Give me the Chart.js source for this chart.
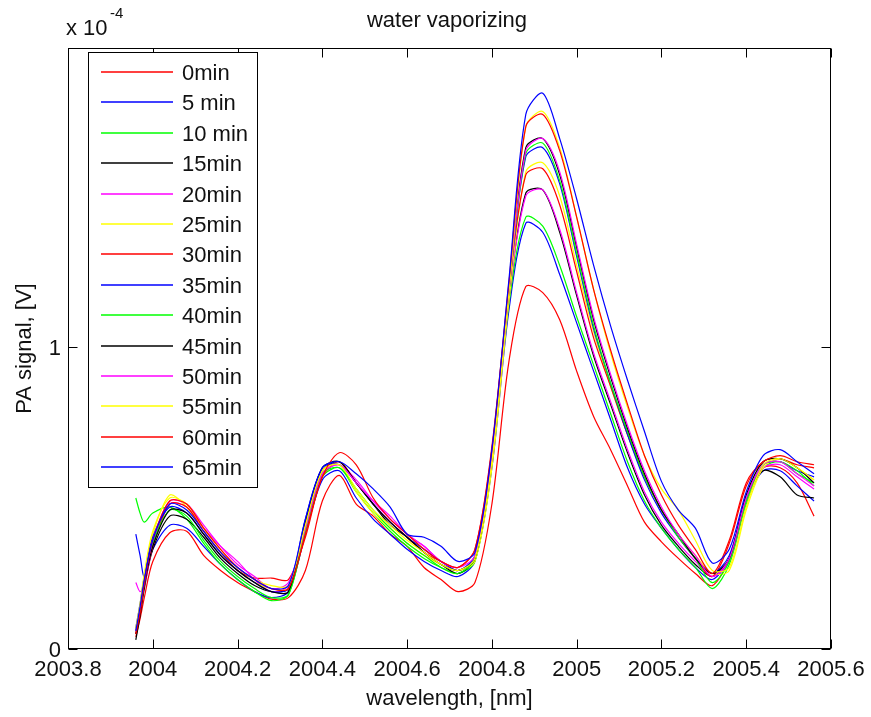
<!DOCTYPE html>
<html>
<head>
<meta charset="utf-8">
<title>water vaporizing</title>
<script src="https://cdn.jsdelivr.net/npm/chart.js@4.4.1/dist/chart.umd.min.js"></script>
<style>
  html, body { margin: 0; padding: 0; background: #fff; }
</style>
</head>
<body>
<canvas id="paChart" width="871" height="717"></canvas>
<script>
// DATA  (PA signal in units of 1e-4 V)
const wavelength = [2003.96, 2003.97, 2003.98, 2004.00, 2004.04, 2004.08, 2004.12, 2004.16, 2004.20, 2004.24,
  2004.28, 2004.32, 2004.36, 2004.40, 2004.44, 2004.48, 2004.52, 2004.56, 2004.60, 2004.64,
  2004.68, 2004.72, 2004.76, 2004.80, 2004.84, 2004.88, 2004.92, 2004.96, 2005.00, 2005.04,
  2005.08, 2005.12, 2005.16, 2005.20, 2005.24, 2005.28, 2005.32, 2005.36, 2005.40, 2005.44,
  2005.48, 2005.52, 2005.56];

const min0 = [0.04, 0.10, 0.17, 0.29, 0.385, 0.39, 0.31, 0.26, 0.22, 0.19, 0.165, 0.17, 0.26, 0.49, 0.575, 0.48, 0.44, 0.38, 0.34, 0.27, 0.23,
  0.19, 0.22, 0.48, 0.95, 1.20, 1.18, 1.09, 0.92, 0.77, 0.66, 0.54, 0.42, 0.355, 0.30, 0.25, 0.21,
  0.30, 0.50, 0.60, 0.60, 0.55, 0.44];
const min5 = [0.38, 0.31, 0.24, 0.33, 0.41, 0.40, 0.34, 0.28, 0.23, 0.19, 0.17, 0.19, 0.38, 0.56, 0.59, 0.50, 0.43, 0.38, 0.33, 0.29, 0.26,
  0.24, 0.29, 0.60, 1.12, 1.41, 1.38, 1.24, 1.08, 0.92, 0.76, 0.60, 0.48, 0.40, 0.33, 0.27, 0.23,
  0.30, 0.49, 0.59, 0.59, 0.54, 0.49];
const min10 = [0.50, 0.45, 0.42, 0.45, 0.47, 0.43, 0.35, 0.28, 0.23, 0.19, 0.16, 0.18, 0.39, 0.57, 0.60, 0.52, 0.45, 0.39, 0.34, 0.30, 0.27,
  0.25, 0.29, 0.61, 1.14, 1.43, 1.40, 1.27, 1.10, 0.94, 0.78, 0.62, 0.49, 0.40, 0.33, 0.27, 0.20,
  0.28, 0.48, 0.60, 0.62, 0.58, 0.55];
const min15 = [0.03, 0.11, 0.20, 0.33, 0.44, 0.43, 0.37, 0.30, 0.25, 0.21, 0.19, 0.20, 0.42, 0.59, 0.62, 0.55, 0.48, 0.41, 0.37, 0.32, 0.28,
  0.25, 0.30, 0.62, 1.16, 1.51, 1.52, 1.38, 1.17, 0.97, 0.81, 0.65, 0.51, 0.41, 0.34, 0.28, 0.24,
  0.30, 0.50, 0.59, 0.57, 0.51, 0.50];
const min20 = [0.22, 0.19, 0.21, 0.34, 0.48, 0.47, 0.40, 0.34, 0.29, 0.23, 0.19, 0.21, 0.41, 0.58, 0.61, 0.56, 0.49, 0.43, 0.38, 0.34, 0.29,
  0.26, 0.30, 0.62, 1.16, 1.50, 1.52, 1.39, 1.18, 0.98, 0.82, 0.66, 0.52, 0.42, 0.35, 0.29, 0.24,
  0.29, 0.49, 0.60, 0.61, 0.57, 0.53];
const min25 = [0.06, 0.14, 0.24, 0.38, 0.51, 0.47, 0.39, 0.32, 0.26, 0.22, 0.20, 0.20, 0.40, 0.59, 0.61, 0.52, 0.45, 0.40, 0.35, 0.31, 0.28,
  0.26, 0.29, 0.60, 1.15, 1.58, 1.61, 1.50, 1.27, 1.05, 0.87, 0.71, 0.57, 0.46, 0.38, 0.31, 0.25,
  0.26, 0.46, 0.60, 0.63, 0.60, 0.56];
const min30 = [0.05, 0.12, 0.21, 0.34, 0.48, 0.47, 0.39, 0.32, 0.26, 0.235, 0.235, 0.23, 0.37, 0.57, 0.62, 0.55, 0.48, 0.42, 0.37, 0.32, 0.29,
  0.27, 0.33, 0.66, 1.19, 1.57, 1.59, 1.47, 1.25, 1.03, 0.87, 0.71, 0.57, 0.46, 0.37, 0.30, 0.24,
  0.35, 0.54, 0.62, 0.63, 0.61, 0.60];
const min35 = [0.07, 0.15, 0.24, 0.37, 0.47, 0.45, 0.38, 0.31, 0.26, 0.22, 0.19, 0.20, 0.43, 0.60, 0.61, 0.55, 0.48, 0.42, 0.37, 0.33, 0.29,
  0.26, 0.31, 0.64, 1.18, 1.63, 1.66, 1.54, 1.30, 1.06, 0.88, 0.71, 0.56, 0.45, 0.37, 0.30, 0.25,
  0.31, 0.50, 0.61, 0.62, 0.59, 0.57];
const min40 = [0.06, 0.13, 0.22, 0.35, 0.46, 0.44, 0.36, 0.29, 0.24, 0.20, 0.17, 0.18, 0.40, 0.58, 0.60, 0.53, 0.46, 0.40, 0.35, 0.31, 0.27,
  0.25, 0.30, 0.63, 1.18, 1.64, 1.675, 1.55, 1.31, 1.07, 0.88, 0.72, 0.57, 0.46, 0.37, 0.30, 0.22,
  0.29, 0.49, 0.61, 0.62, 0.59, 0.54];
const min45 = [0.05, 0.12, 0.21, 0.34, 0.46, 0.45, 0.38, 0.31, 0.26, 0.22, 0.19, 0.19, 0.42, 0.60, 0.62, 0.55, 0.48, 0.42, 0.37, 0.32, 0.28,
  0.26, 0.30, 0.63, 1.19, 1.66, 1.69, 1.57, 1.33, 1.09, 0.90, 0.73, 0.58, 0.46, 0.38, 0.30, 0.25,
  0.30, 0.51, 0.62, 0.63, 0.60, 0.55];
const min50 = [0.06, 0.13, 0.22, 0.36, 0.49, 0.48, 0.41, 0.34, 0.28, 0.24, 0.20, 0.22, 0.40, 0.58, 0.61, 0.55, 0.49, 0.44, 0.38, 0.34, 0.29,
  0.27, 0.31, 0.63, 1.18, 1.65, 1.69, 1.58, 1.34, 1.10, 0.91, 0.74, 0.59, 0.47, 0.38, 0.31, 0.24,
  0.30, 0.50, 0.61, 0.62, 0.58, 0.54];
const min55 = [0.07, 0.15, 0.25, 0.39, 0.50, 0.48, 0.40, 0.33, 0.27, 0.23, 0.21, 0.21, 0.41, 0.59, 0.61, 0.53, 0.46, 0.41, 0.36, 0.32, 0.28,
  0.26, 0.30, 0.62, 1.18, 1.73, 1.78, 1.66, 1.43, 1.19, 0.98, 0.80, 0.64, 0.53, 0.46, 0.36, 0.26,
  0.27, 0.47, 0.61, 0.63, 0.60, 0.56];
const min60 = [0.05, 0.12, 0.22, 0.36, 0.49, 0.48, 0.40, 0.33, 0.27, 0.23, 0.20, 0.20, 0.38, 0.57, 0.65, 0.61, 0.50, 0.43, 0.38, 0.33, 0.29,
  0.27, 0.33, 0.67, 1.21, 1.73, 1.77, 1.65, 1.43, 1.19, 0.99, 0.81, 0.64, 0.51, 0.41, 0.33, 0.25,
  0.36, 0.55, 0.62, 0.64, 0.62, 0.61];
const min65 = [0.06, 0.14, 0.23, 0.36, 0.48, 0.46, 0.39, 0.32, 0.27, 0.23, 0.20, 0.21, 0.43, 0.60, 0.62, 0.58, 0.53, 0.47, 0.38, 0.37, 0.34,
  0.29, 0.32, 0.66, 1.22, 1.77, 1.84, 1.69, 1.49, 1.27, 1.07, 0.89, 0.72, 0.555, 0.46, 0.40, 0.285,
  0.33, 0.52, 0.64, 0.66, 0.62, 0.58];

const seriesNames = ['0min', '5 min', '10 min', '15min', '20min', '25min', '30min',
  '35min', '40min', '45min', '50min', '55min', '60min', '65min'];
const seriesValues = [min0, min5, min10, min15, min20, min25, min30,
  min35, min40, min45, min50, min55, min60, min65];
const seriesColors = ['#ff0000', '#0000ff', '#00ff00', '#000000', '#ff00ff', '#ffff00', '#ff0000',
  '#0000ff', '#00ff00', '#000000', '#ff00ff', '#ffff00', '#ff0000', '#0000ff'];

const xTickValues = [2003.8, 2004.0, 2004.2, 2004.4, 2004.6, 2004.8, 2005.0, 2005.2, 2005.4, 2005.6];
const xTickLabels = ['2003.8', '2004', '2004.2', '2004.4', '2004.6', '2004.8', '2005', '2005.2', '2005.4', '2005.6'];
const yTickValues = [0, 1];
const yTickLabels = ['0', '1'];

const FONT = '"Liberation Sans", Arial, Helvetica, sans-serif';

// MATLAB-like frame, ticks, labels and legend
const matlabFrame = {
    id: 'matlabFrame',
    afterDatasetsDraw(chart) {
        const { ctx, chartArea: a, scales: { x, y } } = chart;
        const L = Math.round(a.left) + 0.5, R = Math.round(a.right) - 0.5;
        const T = Math.round(a.top) + 0.5, B = Math.round(a.bottom) - 0.5;
        ctx.save();
        ctx.strokeStyle = '#000';
        ctx.lineWidth = 1;
        ctx.strokeRect(L, T, R - L, B - T);

        // inward ticks on all sides
        const tl = 9;
        ctx.beginPath();
        xTickValues.forEach(v => {
            const px = Math.round(x.getPixelForValue(v)) + 0.5;
            ctx.moveTo(px, B); ctx.lineTo(px, B - tl);
            ctx.moveTo(px, T); ctx.lineTo(px, T + tl);
        });
        yTickValues.forEach(v => {
            const py = Math.round(y.getPixelForValue(v)) + 0.5;
            ctx.moveTo(L, py); ctx.lineTo(L + tl, py);
            ctx.moveTo(R, py); ctx.lineTo(R - tl, py);
        });
        ctx.stroke();

        ctx.fillStyle = '#111';
        ctx.font = '22px ' + FONT;
        ctx.textBaseline = 'alphabetic';

        // tick labels
        ctx.textAlign = 'center';
        xTickValues.forEach((v, i) => {
            ctx.fillText(xTickLabels[i], x.getPixelForValue(v), 676);
        });
        ctx.textAlign = 'right';
        yTickValues.forEach((v, i) => {
            ctx.fillText(yTickLabels[i], 61, y.getPixelForValue(v) + 8);
        });

        // exponent
        ctx.textAlign = 'left';
        ctx.fillText('x 10', 66, 35);
        ctx.font = '15px ' + FONT;
        ctx.fillText('-4', 110, 18);

        // titles
        ctx.font = '22px ' + FONT;
        ctx.textAlign = 'center';
        ctx.fillText('water vaporizing', 447, 27);
        ctx.fillText('wavelength, [nm]', (a.left + a.right) / 2, 705);
        ctx.save();
        ctx.translate(31, (a.top + a.bottom) / 2);
        ctx.rotate(-Math.PI / 2);
        ctx.fillText('PA signal, [V]', 0, 0);
        ctx.restore();

        // legend box
        const bx = 88.5, by = 52.5, bw = 169, bh = 435;
        ctx.fillStyle = '#fff';
        ctx.fillRect(bx, by, bw, bh);
        ctx.strokeStyle = '#000';
        ctx.lineWidth = 1;
        ctx.strokeRect(bx, by, bw, bh);
        ctx.textAlign = 'left';
        seriesNames.forEach((name, i) => {
            const ly = Math.round(72 + i * 30.4);
            ctx.strokeStyle = seriesColors[i];
            ctx.lineWidth = 1.4;
            ctx.beginPath();
            ctx.moveTo(101, ly);
            ctx.lineTo(173, ly);
            ctx.stroke();
            ctx.fillStyle = '#111';
            ctx.fillText(name, 182, ly + 8);
        });
        ctx.restore();
    }
};

const ctx = document.getElementById('paChart');

new Chart(ctx, {
    type: 'line',
    data: {
        datasets: seriesNames.map((name, i) => ({
            label: name,
            data: wavelength.map((w, j) => ({ x: w, y: seriesValues[i][j] })),
            borderColor: seriesColors[i],
            backgroundColor: seriesColors[i],
            borderWidth: 1.2,
            pointRadius: 0,
            tension: 0.3,
            fill: false,
            order: -i
        }))
    },
    options: {
        responsive: false,
        animation: false,
        events: [],
        layout: { padding: { left: 0, right: 40, top: 48, bottom: 0 } },
        plugins: {
            legend: { display: false },
            title: { display: false },
            tooltip: { enabled: false }
        },
        scales: {
            x: {
                type: 'linear',
                min: 2003.8,
                max: 2005.6,
                grid: { display: false, drawTicks: false },
                border: { display: false },
                ticks: { display: false },
                afterFit: s => { s.height = 68; }
            },
            y: {
                type: 'linear',
                min: 0,
                max: 1.99,
                grid: { display: false, drawTicks: false },
                border: { display: false },
                ticks: { display: false },
                afterFit: s => { s.width = 68; }
            }
        }
    },
    plugins: [matlabFrame]
});
</script>
</body>
</html>
